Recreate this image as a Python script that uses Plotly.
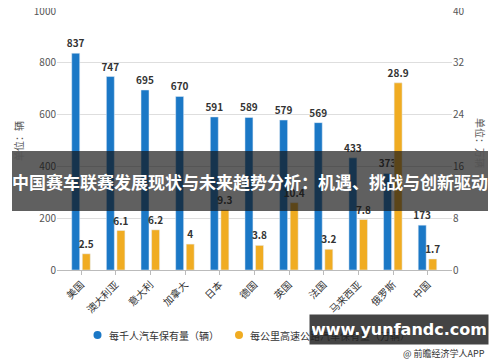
import plotly.graph_objects as go

categories = ["美国", "澳大利亚", "意大利", "加拿大", "日本", "德国", "英国", "法国", "马来西亚", "俄罗斯", "中国"]
cars_per_1000 = [837, 747, 695, 670, 591, 589, 579, 569, 433, 373, 173]
cars_per_km = [2.5, 6.1, 6.2, 4, 9.3, 3.8, 10.4, 3.2, 7.8, 28.9, 1.7]
left_ticks = [0, 200, 400, 600, 800, 1000]
right_ticks = [0, 8, 16, 24, 32, 40]
series_names = ["每千人汽车保有量（辆）", "每公里高速公路汽车保有量（万辆）"]

BLUE = "#1b78c6"
ORANGE = "#f0ac22"
CJK = "Noto Sans CJK SC"

# page body has an 8px margin; figure is sized to fill the rest of the window
OFF = 8
W, H = 500 - OFF, 362 - OFF
# plot area edges in window pixels
L, R, T, B = 57, 452, 11, 270


def px(x):
    return (x - L) / (R - L)


def py(y):
    return (B - y) / (B - T)


fig = go.Figure()
fig.add_trace(go.Bar(
    x=categories, y=cars_per_1000, name=series_names[0], showlegend=False,
    marker_color=BLUE, width=0.23, offset=-0.275,
    texttemplate="<b>%{y}</b>", textposition="outside", constraintext="none",
    textfont=dict(family=CJK, size=10, color="#333333"),
    cliponaxis=False, yaxis="y",
))
fig.add_trace(go.Bar(
    x=categories, y=cars_per_km, name=series_names[1], showlegend=False,
    marker_color=ORANGE, width=0.23, offset=0.03,
    texttemplate="<b>%{y}</b>", textposition="outside", constraintext="none",
    textfont=dict(family=CJK, size=10, color="#333333"),
    cliponaxis=False, yaxis="y2",
))

shapes = [
    dict(type="rect", xref="paper", yref="paper",
         x0=px(12), x1=px(488), y0=py(211), y1=py(151),
         fillcolor="rgba(20,20,20,0.68)", line=dict(width=0), layer="above"),
]
annotations = [
    dict(text="单位：辆", xref="paper", yref="paper", x=px(18), y=py(141),
         xanchor="center", yanchor="middle", showarrow=False, textangle=-90,
         font=dict(family=CJK, size=10, color="#555555")),
    dict(text="单位：万辆", xref="paper", yref="paper", x=px(481), y=py(143),
         xanchor="center", yanchor="middle", showarrow=False, textangle=90,
         font=dict(family=CJK, size=10, color="#555555")),
]

# legend (circle markers + labels)
for nm, col, cx in zip(series_names, [BLUE, ORANGE], [97.5, 239]):
    shapes.append(dict(type="circle", xref="paper", yref="paper",
                       xsizemode="pixel", ysizemode="pixel",
                       xanchor=px(cx), yanchor=py(335), x0=-4, x1=4, y0=-4, y1=4,
                       fillcolor=col, line=dict(width=0), layer="above"))
    annotations.append(dict(text=nm, xref="paper", yref="paper", x=px(cx + 9), y=py(335),
                            xanchor="left", yanchor="middle", showarrow=False,
                            font=dict(family=CJK, size=10, color="#333333")))

annotations += [
    dict(text="<b>中国赛车联赛发展现状与未来趋势分析：机遇、挑战与创新驱动</b>",
         xref="paper", yref="paper", x=px(250), y=py(181), xanchor="center", yanchor="middle",
         showarrow=False, font=dict(family=CJK, size=17, color="white")),
    dict(text="<b>www.yunfandc.com</b>", xref="paper", yref="paper",
         x=px(399), y=py(329.5), xanchor="center", yanchor="middle", showarrow=False,
         width=174, height=25, bgcolor="rgba(35,35,35,0.85)", borderpad=2,
         font=dict(family="DejaVu Sans", size=16, color="white")),
    dict(text="@ 前瞻经济学人APP", xref="paper", yref="paper",
         x=px(487), y=py(353), xanchor="right", yanchor="middle", showarrow=False,
         font=dict(family=CJK, size=9, color="#333333")),
]

fig.update_layout(
    width=W, height=H,
    margin=dict(l=L - OFF, r=W - (R - OFF), t=T - OFF, b=H - (B - OFF), autoexpand=False),
    paper_bgcolor="white", plot_bgcolor="white",
    font=dict(family=CJK, size=10, color="#555555"),
    barmode="overlay",
    showlegend=False,
    xaxis=dict(
        range=[-0.7, 10.7], tickangle=-45, showgrid=False, automargin=False,
        showline=True, linecolor="#bbbbbb", ticks="outside", tickcolor="#bbbbbb", ticklen=4,
        tickfont=dict(family=CJK, size=10, color="#333333"),
    ),
    yaxis=dict(
        range=[0, 1000], tickvals=left_ticks, showgrid=True, gridcolor="#dedede",
        zeroline=False, automargin=False, ticklabeloverflow="allow",
        tickfont=dict(family=CJK, size=10, color="#555555"),
    ),
    yaxis2=dict(
        range=[0, 40], tickvals=right_ticks, overlaying="y", side="right", automargin=False,
        showgrid=False, zeroline=False, ticklabeloverflow="allow",
        tickfont=dict(family=CJK, size=10, color="#555555"),
    ),
    shapes=shapes,
    annotations=annotations,
)

fig.write_html("out.html")
